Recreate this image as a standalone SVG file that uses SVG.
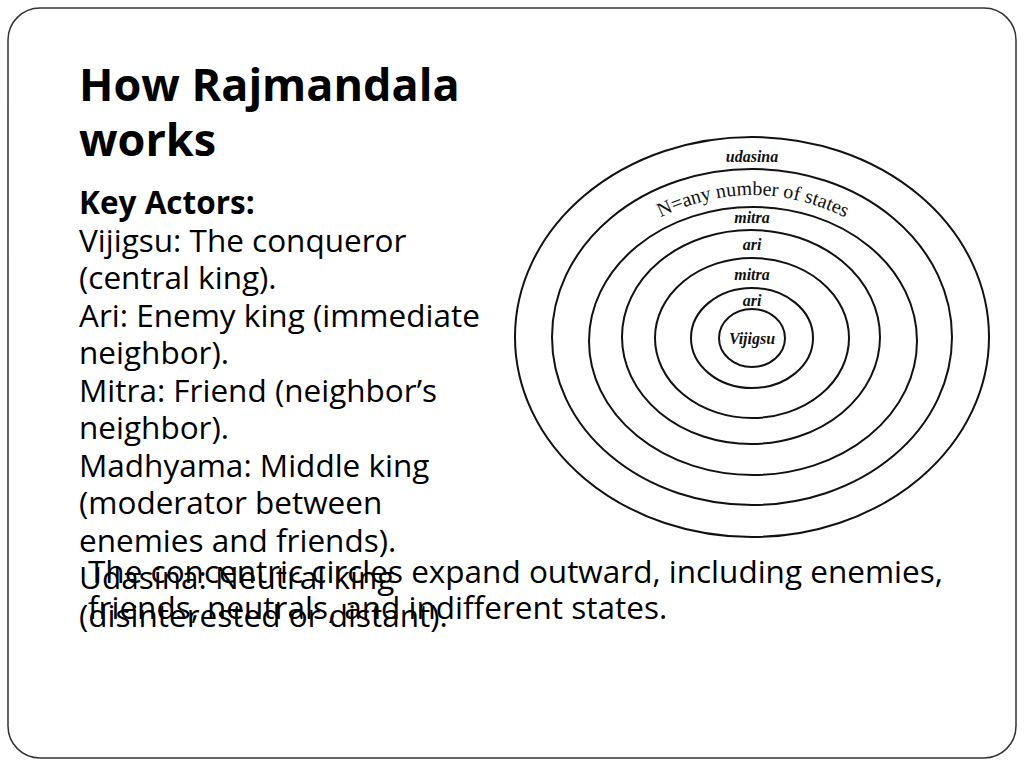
<svg xmlns="http://www.w3.org/2000/svg" xmlns:xlink="http://www.w3.org/1999/xlink" width="1024" height="768" viewBox="0 0 1024 768">
<style>
.b{font-family:"Open Sans","Noto Sans",sans-serif;fill:#000}
.t{font-size:45px;font-weight:bold}
.x{font-size:31.5px}
.r{fill:none;stroke:#111;stroke-width:2}
.l{font-family:"Liberation Serif",serif;font-style:italic;font-weight:bold;font-size:16px;text-anchor:middle;fill:#111}
</style>
<defs><path id="arc" d="M 648 224 Q 752 166 858 224"/></defs>
<rect x="0" y="0" width="1024" height="768" fill="#fff"/>
<rect x="8" y="8" width="1008" height="750" rx="32" fill="#fff" stroke="#333" stroke-width="1.5"/>
<g id="title"><text class="b t" x="79" y="101">How Rajmandala</text><text class="b t" x="79" y="156">works</text></g>
<g id="body" class="b x">
<text x="79" y="214" font-weight="bold">Key Actors:</text>
<text x="79" y="252">Vijigsu: The conqueror</text>
<text x="79" y="289">(central king).</text>
<text x="79" y="327">Ari: Enemy king (immediate</text>
<text x="79" y="364">neighbor).</text>
<text x="79" y="402">Mitra: Friend (neighbor’s</text>
<text x="79" y="439">neighbor).</text>
<text x="79" y="477">Madhyama: Middle king</text>
<text x="79" y="514">(moderator between</text>
<text x="79" y="552">enemies and friends).</text>
<text x="79" y="589">Udasina: Neutral king</text>
<text x="79" y="627">(disinterested or distant).</text>
</g>
<g id="note" class="b x"><text x="88" y="583">The concentric circles expand outward, including enemies,</text><text x="88" y="619">friends, neutrals, and indifferent states.</text></g>
<g id="mandala">
<ellipse class="r" cx="752" cy="337" rx="237" ry="200"/>
<ellipse class="r" cx="752" cy="337" rx="200" ry="168"/>
<ellipse class="r" cx="753" cy="341" rx="164" ry="134"/>
<ellipse class="r" cx="751" cy="337" rx="129" ry="107"/>
<ellipse class="r" cx="752" cy="338" rx="97" ry="80"/>
<ellipse class="r" cx="752" cy="338" rx="61" ry="50"/>
<ellipse class="r" cx="752" cy="338" rx="33" ry="29"/>
<text class="l" x="752" y="162">udasina</text>
<text font-family="Liberation Serif,serif" font-size="20" fill="#111"><textPath xlink:href="#arc" startOffset="50%" text-anchor="middle">N=any number of states</textPath></text>
<text class="l" x="752" y="223">mitra</text>
<text class="l" x="752" y="250">ari</text>
<text class="l" x="752" y="280">mitra</text>
<text class="l" x="752" y="306">ari</text>
<text class="l" x="752" y="344" font-weight="normal" font-size="17">Vijigsu</text>
</g>
</svg>
